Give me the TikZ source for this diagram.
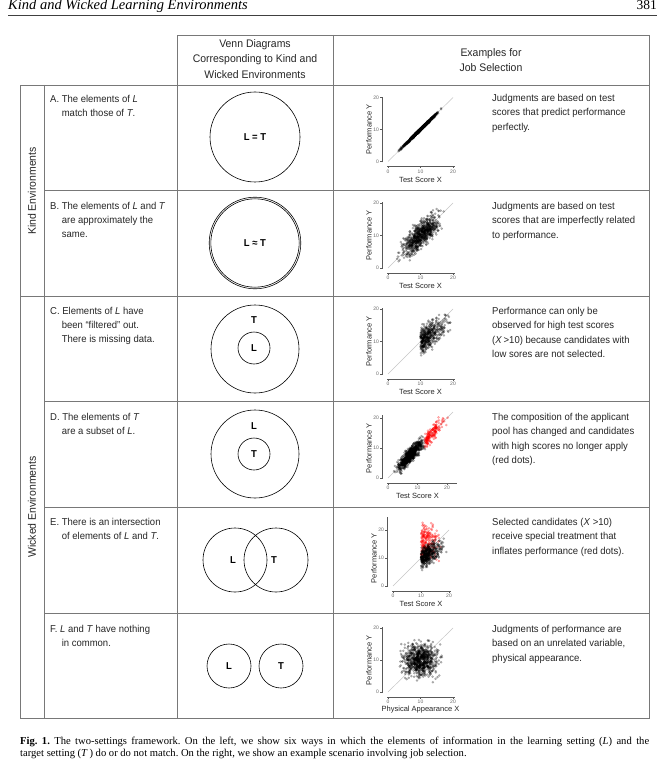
\documentclass[tikz,border=0pt]{standalone}
\usepackage{fontspec}
\setmainfont{Liberation Sans}[FakeStretch=0.95]
\newfontfamily\seriffont{Liberation Serif}
\newfontfamily\plotfont{Liberation Sans}
\definecolor{tablegray}{RGB}{120,120,120}
\newcommand\scatterpts[4]{%
  \foreach \i in {1,...,#1}{%
    \pgfmathsetmacro\ptx{#2}%
    \pgfmathsetmacro\pty{#3}%
    \path[#4] (\ptx,\pty) circle[radius=1.2pt];
  }}
\newcommand\frameaxes[5]{% xmax, ymax, xlabel, prefix, ylabel
  \draw[axisline] ([xshift=-6pt]0,-0.3) -- ([xshift=-6pt]0,#2);
  \draw[axisline] ([yshift=-5pt]-0.3,0) -- ([yshift=-5pt]#1,0);
  \foreach \t in {0,10,20}{%
    \draw[axisline] ([xshift=-6pt]0,\t) -- ++(-2pt,0) node[left,ticklab] (#4y\t) {\t};
    \draw[axisline] ([yshift=-5pt]\t,0) -- ++(0,-2pt) node[below,ticklab] (#4x\t) {\t};
  }
  \node[axtitle] (#4xl) at ([yshift=-18pt]10,0) {#3};
  \node[axtitle,rotate=90] (#4yl) at ([xshift=-19pt]0,10) {#5};
}
\tikzset{
  tline/.style={draw=tablegray, line width=0.7pt},
  venn/.style={draw=black, line width=0.6pt},
  vlab/.style={font=\bfseries\fontsize{10}{10}\selectfont, inner sep=0},
  ltext/.style={anchor=north west, inner sep=0, align=left, font=\fontsize{10}{14}\selectfont, text=black!85},
  rtext/.style={anchor=north west, inner sep=0, align=left, font=\fontsize{10}{14.5}\selectfont, text=black!85},
  htext/.style={anchor=north, inner sep=0, align=center, font=\fontsize{11}{15.5}\selectfont, text=black!85},
  sidelab/.style={rotate=90, inner sep=0, font=\fontsize{11}{11}\selectfont, text=black!85},
  diag/.style={draw=gray!45, line width=0.5pt},
  axisline/.style={draw=black!65, line width=0.5pt},
  ticklab/.style={font=\plotfont\fontsize{5}{5}\selectfont, text=black!60, inner sep=0.8pt},
  axtitle/.style={font=\plotfont\fontsize{7.5}{7.5}\selectfont, text=black!85, inner sep=0},
  bdot/.style={fill=black, fill opacity=0.3, draw=black, draw opacity=0.22, line width=0.15pt},
  rdot/.style={fill=red, fill opacity=0.3, draw=red, draw opacity=0.3, line width=0.15pt},
}
\begin{document}
\frenchspacing
\begin{tikzpicture}[x=1pt,y=-1pt]
\useasboundingbox (0,0) rectangle (665,767);
\fill[white] (0,0) rectangle (665,767);

% running head
\node[anchor=base west, inner sep=0, font=\seriffont\itshape\fontsize{14.5}{14.5}\selectfont] (runhead) at (8,10) {Kind and Wicked Learning Environments};
\node[anchor=base east, inner sep=0, font=\seriffont\fontsize{13.5}{13.5}\selectfont] (pageno) at (657,10) {381};
\draw[black!75, line width=0.6pt] (8,15) -- (657,15);

% table
\draw[tline] (177,35) rectangle (649,85);
\draw[tline] (333,35) -- (333,718);
\draw[tline] (20,85) rectangle (649,718);
\draw[tline] (44,85) -- (44,718);
\draw[tline] (177,85) -- (177,718);
\draw[tline] (44,190) -- (649,190);
\draw[tline] (20,296) -- (649,296);
\draw[tline] (44,401) -- (649,401);
\draw[tline] (44,507) -- (649,507);
\draw[tline] (44,613) -- (649,613);

% headers
\node[htext] (hvenn) at (255,39) {Venn Diagrams\\Corresponding to Kind and\\Wicked Environments};
\node[htext] (hex) at (491,48) {Examples for\\Job Selection};
\node[sidelab] (kind) at (32,191) {Kind Environments};
\node[sidelab] (wicked) at (32,507) {Wicked Environments};

% left texts
\node[ltext] (ta) at (50,95) {A. The elements of \textit{L}\\\hphantom{A.~}match those of \textit{T}.};
\node[ltext] (tb) at (50,202) {B. The elements of \textit{L} and \textit{T}\\\hphantom{A.~}are approximately the\\\hphantom{A.~}same.};
\node[ltext] (tc) at (50,307) {C. Elements of \textit{L} have\\\hphantom{A.~}been “filtered” out.\\\hphantom{A.~}There is missing data.};
\node[ltext] (td) at (50,413) {D. The elements of \textit{T}\\\hphantom{A.~}are a subset of \textit{L}.};
\node[ltext] (te) at (50,518) {E. There is an intersection\\\hphantom{A.~}of elements of \textit{L} and \textit{T}.};
\node[ltext] (tf) at (50,625) {F. \textit{L} and \textit{T} have nothing\\\hphantom{A.~}in common.};

% right texts
\node[rtext] (ra) at (492,94) {Judgments are based on test\\scores that predict performance\\perfectly.};
\node[rtext] (rb) at (492,202) {Judgments are based on test\\scores that are imperfectly related\\to performance.};
\node[rtext] (rc) at (492,307) {Performance can only be\\observed for high test scores\\(\textit{X}\,>10) because candidates with\\low sores are not selected.};
\node[rtext] (rd) at (492,413) {The composition of the applicant\\pool has changed and candidates\\with high scores no longer apply\\(red dots).};
\node[rtext] (re) at (492,518) {Selected candidates (\textit{X} >10)\\receive special treatment that\\inflates performance (red dots).};
\node[rtext] (rf) at (492,625) {Judgments of performance are\\based on an unrelated variable,\\physical appearance.};

% Venn diagrams
\draw[venn] (255,137) circle[radius=45pt];
\node[vlab] (va) at (255,137) {L = T};
\draw[venn] (255,243) circle[radius=44.2pt];
\draw[venn] (255,243) circle[radius=45.8pt];
\node[vlab] (vb) at (255,243) {L ≈ T};
\draw[venn] (255,349) circle[radius=44pt];
\draw[venn] (254,348) circle[radius=16pt];
\node[vlab] (vcT) at (254,320) {T};
\node[vlab] (vcL) at (254,348) {L};
\draw[venn] (255,454) circle[radius=44pt];
\draw[venn] (254,454) circle[radius=16pt];
\node[vlab] (vdL) at (254,426) {L};
\node[vlab] (vdT) at (254,454) {T};
\draw[venn] (235,560) circle[radius=32pt];
\draw[venn] (276,560) circle[radius=32pt];
\node[vlab] (veL) at (233,560) {L};
\node[vlab] (veT) at (274,560) {T};
\draw[venn] (229,666) circle[radius=22pt];
\draw[venn] (281,666) circle[radius=22pt];
\node[vlab] (vfL) at (229,666) {L};
\node[vlab] (vfT) at (281,666) {T};

% plot A
\begin{scope}[shift={(388,161.5)}, x=3.25pt, y=3.2pt]
  \draw[diag] (0,0) -- (20,20);
  \pgfmathsetseed{11}
  \scatterpts{850}{9.6+2.5*(rand+rand+rand)}{\ptx+0.2*(rand+rand+rand)}{bdot}
  \frameaxes{20.5}{20.3}{Test Score X}{pa}{Performance Y}
\end{scope}
% plot B
\begin{scope}[shift={(388,268)}, x=3.25pt, y=3.25pt]
  \draw[diag] (0,0) -- (20,20);
  \pgfmathsetseed{23}
  \scatterpts{750}{10+2.7*(rand+rand+rand)}{10+0.8*(\ptx-10)+1.9*(rand+rand+rand)}{bdot}
  \frameaxes{20.5}{20.3}{Test Score X}{pb}{Performance Y}
\end{scope}
% plot C
\begin{scope}[shift={(388,374)}, x=3.25pt, y=3.25pt]
  \draw[diag] (0,0) -- (20,20);
  \pgfmathsetseed{37}
  \scatterpts{450}{10+3.6*abs(rand+rand+rand)}{10+0.7*(\ptx-10)+2*(rand+rand+rand)}{bdot}
  \frameaxes{20.5}{20.3}{Test Score X}{pc}{Performance Y}
\end{scope}
% plot D
\begin{scope}[shift={(388,478)}, x=2.95pt, y=3pt]
  \draw[diag] (0,0) -- (22,22);
  \pgfmathsetseed{41}
  \scatterpts{750}{7.5+2*(rand+rand+rand)}{\ptx+1.2*(rand+rand+rand)}{bdot}
  \scatterpts{170}{12.5+3*abs(rand+rand+rand)}{\ptx+1.2*(rand+rand+rand)}{rdot}
  \frameaxes{23.4}{21}{Test Score X}{pd}{Performance Y}
\end{scope}
% plot E
\begin{scope}[shift={(393,586)}, x=2.8pt, y=2.8pt]
  \draw[diag] (0,0) -- (20,20);
  \pgfmathsetseed{53}
  \scatterpts{200}{10+3*abs(rand+rand+rand)}{16+2.6*(rand+rand+rand)}{rdot}
  \scatterpts{450}{10+3.3*abs(rand+rand+rand)}{10+0.5*(\ptx-10)+1.7*(rand+rand+rand)}{bdot}
  \frameaxes{20.7}{24.6}{Test Score X}{pe}{Performance Y}
\end{scope}
% plot F
\begin{scope}[shift={(388,692)}, x=3.25pt, y=3.2pt]
  \draw[diag] (0,0) -- (20,20);
  \pgfmathsetseed{67}
  \scatterpts{800}{10+2.5*(rand+rand+rand)}{10+2.4*(rand+rand+rand)}{bdot}
  \frameaxes{20.5}{20.3}{Physical Appearance X}{pf}{Performance Y}
\end{scope}

% caption
\node[anchor=base west, inner sep=0, font=\seriffont\fontsize{10.6}{12}\selectfont] (cap1) at (20,744) {\makebox[629pt][s]{\textbf{Fig. 1.} The two-settings framework. On the left, we show six ways in which the elements of information in the learning setting (\textit{L}) and the}};
\node[anchor=base west, inner sep=0, font=\seriffont\fontsize{10.6}{12}\selectfont] (cap2) at (20,756) {target setting (\textit{T}\,) do or do not match. On the right, we show an example scenario involving job selection.};
\end{tikzpicture}
\end{document}
